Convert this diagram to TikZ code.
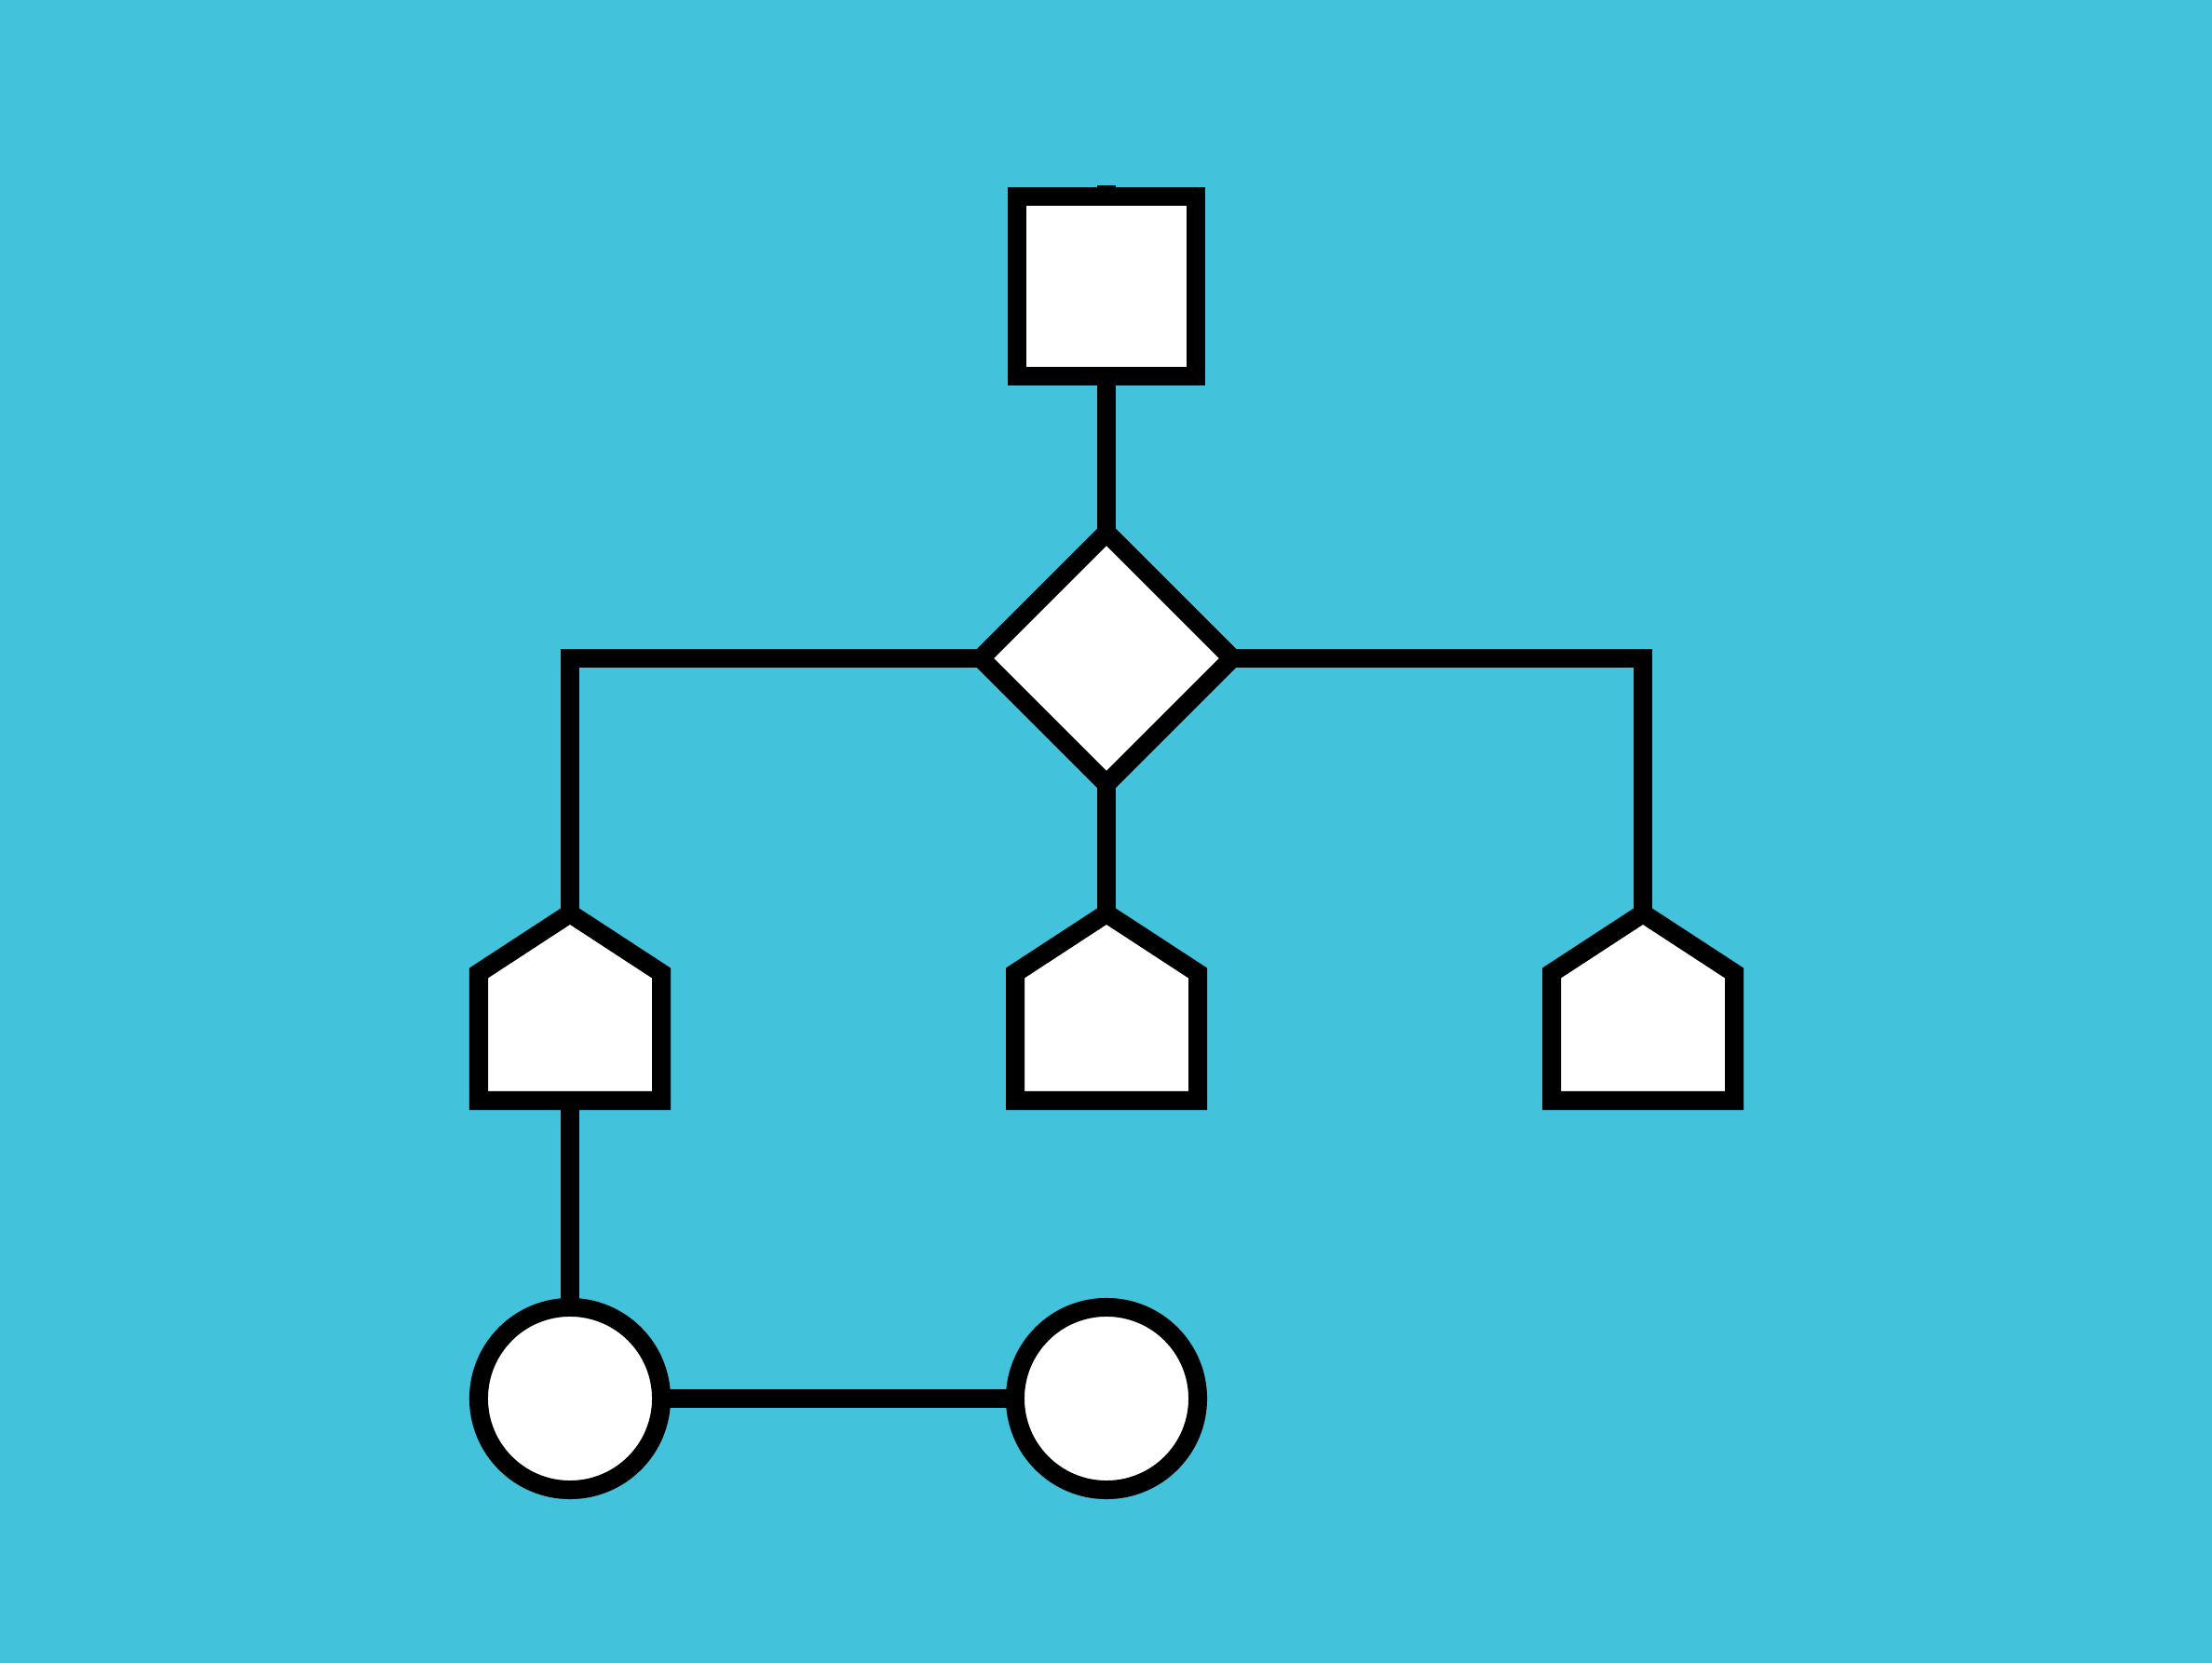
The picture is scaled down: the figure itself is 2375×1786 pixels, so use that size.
\documentclass[tikz,border=0pt]{standalone}
\usetikzlibrary{shapes.geometric}
\definecolor{skyback}{RGB}{67,194,220}
\pgfdeclarelayer{bg}
\pgfdeclarelayer{links}
\pgfsetlayers{bg,links,main}
\begin{document}
\begin{tikzpicture}[x=0.01cm,y=-0.01cm,
  shp/.style={draw=black,fill=white,line width=0.2cm,line join=miter,inner sep=0pt,outer sep=0pt},
  boxnode/.style={shp,rectangle,minimum width=1.92cm,minimum height=1.92cm},
  decnode/.style={shp,diamond,aspect=1,minimum width=2.7cm,minimum height=2.7cm},
  roundnode/.style={shp,circle,minimum size=1.96cm},
  link/.style={draw=black,line width=0.2cm,line join=miter}]
  \begin{pgfonlayer}{bg}
    \fill[skyback] (0,0) rectangle (2375,1786);
  \end{pgfonlayer}
  \useasboundingbox (0,0) rectangle (2375,1786);

  % nodes
  \node[boxnode] (sq) at (1188,307.5) {};
  \node[decnode] (dia) at (1188,707) {};
  \node[roundnode] (c1) at (612,1502) {};
  \node[roundnode] (c2) at (1188,1502) {};
  \coordinate (sqtop) at (1188,199);

  % house-shaped boxes: apex and base points
  \foreach \n/\cx in {p1/612,p2/1188,p3/1764}{
    \draw[shp] (\cx-98,1182) -- (\cx-98,1045) -- (\cx,981) -- (\cx+98,1045) -- (\cx+98,1182) -- cycle;
    \coordinate (\n top) at (\cx,981);
    \coordinate (\n bot) at (\cx,1182);
  }

  % connectors
  \begin{pgfonlayer}{links}
    \draw[link] (dia.center) -- (sqtop);
    \draw[link] (dia.center) -| (p1top);
    \draw[link] (dia.center) -- (p2top);
    \draw[link] (dia.center) -| (p3top);
    \draw[link] (p1bot) -- (c1.center);
    \draw[link] (c1.center) -- (c2.center);
  \end{pgfonlayer}
\end{tikzpicture}
\end{document}
